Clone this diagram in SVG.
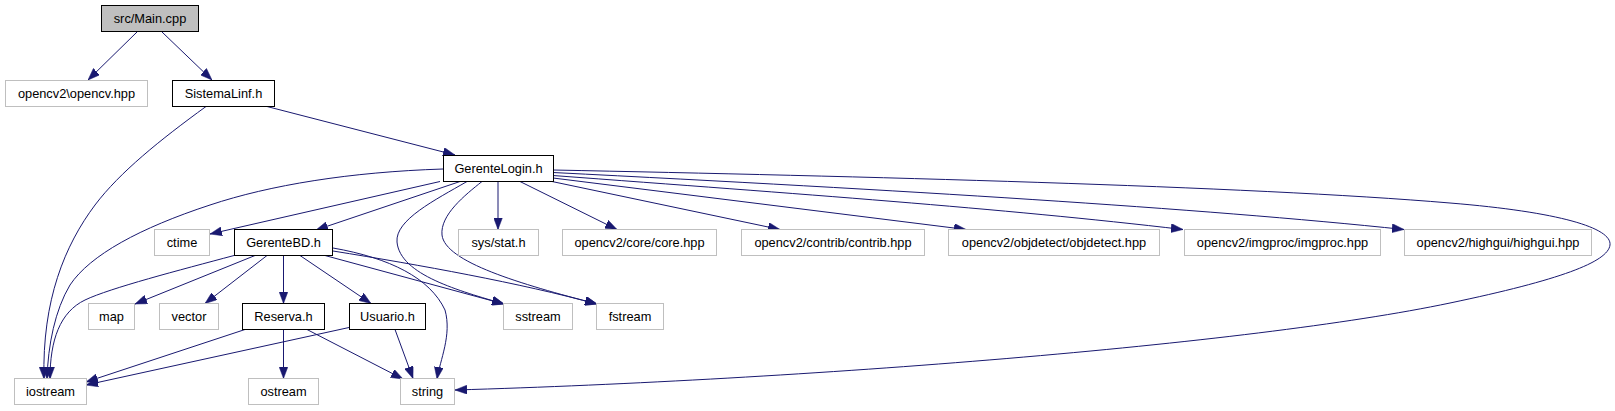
<svg xmlns="http://www.w3.org/2000/svg" width="1615" height="411" viewBox="0 0 1615 411">
<style>
.n rect{fill:#fff;stroke:#bfbfbf;stroke-width:1}
.n.k rect{stroke:#000}
.n.m rect{fill:#bfbfbf;stroke:#000}
.n text{font-family:"Liberation Sans",Arial,sans-serif;font-size:12.8px;text-anchor:middle;fill:#000}
.e path{fill:none;stroke:#191970;stroke-width:1;marker-end:url(#ah)}
</style>
<defs>
<marker id="ah" markerUnits="userSpaceOnUse" markerWidth="12" markerHeight="9" refX="12" refY="4.5" orient="auto">
<path d="M0,0 L12,4.5 L0,9 z" fill="#191970" stroke="#191970" stroke-width="0.5"/>
</marker>
</defs>
<rect width="1615" height="411" fill="#fff"/>
<g id="edges" class="e">
<path d="M137,32 L88,80"/>
<path d="M162,32 L212,80"/>
<path d="M267,106.5 L455,155"/>
<path d="M206,106.5 C160,140 120,172 95,205 C65,245 42,300 44,379"/>
<path d="M443,169 C350,172 270,185 210,205 C140,228 90,255 70,285 C55,310 48,345 47,379"/>
<path d="M440,181.5 L210,234"/>
<path d="M460,181.5 L316,230"/>
<path d="M467,181.5 C435,200 395,220 397,242 C400,275 460,291 504,304"/>
<path d="M482,181.5 C465,195 440,215 442,235 C445,262 520,284 597,304"/>
<path d="M498,181.5 L498,229.5"/>
<path d="M520,181.5 L617,229.5"/>
<path d="M552,181.5 L780,229.5"/>
<path d="M553,178 L966,229.5"/>
<path d="M553,175.5 C800,194 1000,208 1183,229.5"/>
<path d="M553,172.5 C900,190 1200,208 1404,229.5"/>
<path d="M553,170 C850,176 1250,186 1450,203 C1560,212 1612,228 1610,245 C1608,262 1560,280 1450,303 C1250,345 800,380 455,390"/>
<path d="M255,255.5 L135,304"/>
<path d="M267,255.5 L205,303.5"/>
<path d="M283.5,255.5 L283.5,303.5"/>
<path d="M300,255.5 L371,303.5"/>
<path d="M234,255.5 C180,270 110,288 85,300 C60,312 50,340 50,379"/>
<path d="M325,255.5 L504,304"/>
<path d="M333,251 C420,265 520,283 597,304"/>
<path d="M333,248 C390,258 430,278 445,310 C452,335 440,360 437,379"/>
<path d="M245,329.5 L86,382"/>
<path d="M283.5,329.5 L283.5,378.5"/>
<path d="M307,329.5 L403,379"/>
<path d="M349,327.5 L86,385"/>
<path d="M395,329.5 L413,378.5"/>
</g>
<g id="main" class="n m"><rect x="101.5" y="5.5" width="97" height="26"/><text x="150" y="23">src/Main.cpp</text></g>
<g id="opencv" class="n"><rect x="5.5" y="80.5" width="142" height="26"/><text x="76.5" y="98">opencv2\opencv.hpp</text></g>
<g id="sistemalinf" class="n k"><rect x="172.5" y="80.5" width="102" height="26"/><text x="223.5" y="98">SistemaLinf.h</text></g>
<g id="gerentelogin" class="n k"><rect x="443.5" y="155.5" width="110" height="26"/><text x="498.5" y="173">GerenteLogin.h</text></g>
<g id="ctime" class="n"><rect x="154.5" y="229.5" width="55" height="26"/><text x="182" y="247">ctime</text></g>
<g id="gerentebd" class="n k"><rect x="234.5" y="229.5" width="98" height="26"/><text x="283.5" y="247">GerenteBD.h</text></g>
<g id="sysstat" class="n"><rect x="458.5" y="229.5" width="80" height="26"/><text x="498.5" y="247">sys/stat.h</text></g>
<g id="core" class="n"><rect x="562.5" y="229.5" width="154" height="26"/><text x="639.5" y="247">opencv2/core/core.hpp</text></g>
<g id="contrib" class="n"><rect x="741.5" y="229.5" width="183" height="26"/><text x="833" y="247">opencv2/contrib/contrib.hpp</text></g>
<g id="objdetect" class="n"><rect x="948.5" y="229.5" width="211" height="26"/><text x="1054" y="247">opencv2/objdetect/objdetect.hpp</text></g>
<g id="imgproc" class="n"><rect x="1184.5" y="229.5" width="196" height="26"/><text x="1282.5" y="247">opencv2/imgproc/imgproc.hpp</text></g>
<g id="highgui" class="n"><rect x="1404.5" y="229.5" width="187" height="26"/><text x="1498" y="247">opencv2/highgui/highgui.hpp</text></g>
<g id="map" class="n"><rect x="88.5" y="303.5" width="46" height="26"/><text x="111.5" y="321">map</text></g>
<g id="vector" class="n"><rect x="159.5" y="303.5" width="59" height="26"/><text x="189" y="321">vector</text></g>
<g id="reserva" class="n k"><rect x="242.5" y="303.5" width="82" height="26"/><text x="283.5" y="321">Reserva.h</text></g>
<g id="usuario" class="n k"><rect x="349.5" y="303.5" width="76" height="26"/><text x="387.5" y="321">Usuario.h</text></g>
<g id="sstream" class="n"><rect x="503.5" y="303.5" width="69" height="26"/><text x="538" y="321">sstream</text></g>
<g id="fstream" class="n"><rect x="596.5" y="303.5" width="67" height="26"/><text x="630" y="321">fstream</text></g>
<g id="iostream" class="n"><rect x="14.5" y="378.5" width="72" height="26"/><text x="50.5" y="396">iostream</text></g>
<g id="ostream" class="n"><rect x="248.5" y="378.5" width="70" height="26"/><text x="283.5" y="396">ostream</text></g>
<g id="string" class="n"><rect x="400.5" y="378.5" width="54" height="26"/><text x="427.5" y="396">string</text></g>
</svg>
